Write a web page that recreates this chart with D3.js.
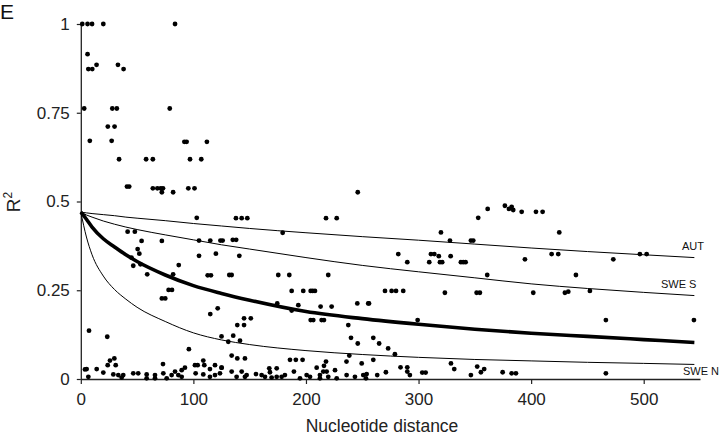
<!DOCTYPE html>
<html>
<head>
<meta charset="utf-8">
<script src="https://cdn.jsdelivr.net/npm/d3@7"></script>
<style>
  body { margin: 0; background: #fff; }
  svg { display: block; font-family: "Liberation Sans", Arial, sans-serif; }
</style>
</head>
<body>
<svg id="chart" width="720" height="437"></svg>
<script>
// --- données ---
const xTicks = [0, 100, 200, 300, 400, 500];
const yTicks = [0, 0.25, 0.5, 0.75, 1];

// distances où les courbes ajustées ont été relevées
const curveDist = [0, 5, 10, 20, 30, 40, 50, 75, 100, 125, 150, 200, 250, 300, 350, 400, 450, 500, 545];
const autR2   = [0.47, 0.468, 0.466, 0.463, 0.46, 0.456, 0.453, 0.446, 0.438, 0.431, 0.424, 0.412, 0.401, 0.391, 0.38, 0.369, 0.359, 0.35, 0.342];
const sweSR2  = [0.47, 0.462, 0.456, 0.445, 0.436, 0.428, 0.421, 0.406, 0.392, 0.378, 0.366, 0.342, 0.32, 0.302, 0.285, 0.268, 0.255, 0.244, 0.235];
const meanR2  = [0.47, 0.45, 0.428, 0.395, 0.372, 0.35, 0.331, 0.293, 0.263, 0.241, 0.222, 0.19, 0.17, 0.154, 0.14, 0.129, 0.12, 0.111, 0.103];
const sweNR2  = [0.47, 0.40, 0.35, 0.29, 0.252, 0.225, 0.202, 0.162, 0.13, 0.11, 0.097, 0.08, 0.069, 0.061, 0.055, 0.051, 0.047, 0.044, 0.041];

const curveLabels = ["AUT", "SWE S", "SWE N"];

// paires [distance, R2]
const pairs = [
  [1.3,1],[6,1],[10,1],[20,1],[83.7,1],
  [6,0.915],[6.7,0.873],[10.2,0.873],[14,0.885],[33,0.885],[38,0.873],
  [3,0.762],[28,0.762],[32,0.762],[79,0.762],
  [24,0.711],[30,0.711],
  [8,0.671],[27.4,0.671],[92,0.668],[94,0.668],[112,0.668],
  [34,0.619],[58,0.619],[64,0.619],[97,0.619],[107,0.619],
  [41,0.542],[43,0.542],[64,0.537],[68,0.537],[71,0.537],[73,0.537],[72,0.526],[82,0.526],[95.5,0.537],[101,0.537],
  [246,0.526],
  [103,0.454],[41.6,0.415],[48,0.415],[54,0.389],[72,0.389],[105,0.39],[115,0.39],[124,0.39],[126,0.39],
  [50.5,0.366],[52,0.353],[105,0.347],[120,0.353],[45,0.342],[46.6,0.319],[53,0.323],[87,0.321],
  [59,0.295],[82,0.295],[112.7,0.292],[115.6,0.292],[78,0.251],[81,0.251],[72,0.227],[75,0.227],
  [121.6,0.199],[115,0.183],[7.3,0.136],[23.5,0.119],[125,0.12],[96,0.084],[73,0.042],
  [25.9,0.052],[29.8,0.058],[23.9,0.039],[31,0.039],[5.2,0.028],[14.1,0.028],[20,0.018],[6.7,0.006],
  [28.9,0.013],[33.3,0.011],[37.7,0.011],[36.3,0.004],[46.6,0.016],[51,0.016],[58.5,0.013],[58.5,0.002],
  [65.9,0.011],[65.9,0.002],[73.3,0.016],[80.7,0.011],[76.3,0.002],[83.7,0.021],[86.6,0.011],[89.6,0.025],
  [89.6,0.006],[92.5,0.032],[101.4,0.039],[103.8,0.039],[108.8,0.052],[109.7,0.039],[114.7,0.028],[119.2,0.039],
  [102,0.016],[108.8,0.013],[114.7,0.006],[119.2,0.011],[125,0.032],[123.6,0.016],[3.7,0.027],
  [137.8,0.453],[142.9,0.453],[147.9,0.453],[217.8,0.453],[227.3,0.453],[179.3,0.412],[135,0.392],[138,0.392],
  [140.8,0.347],[131.9,0.293],[134,0.293],[175.4,0.293],[185.2,0.293],[219.8,0.293],[187.3,0.248],[197.6,0.248],
  [204.2,0.248],[206,0.248],[208,0.248],[193.2,0.208],[213,0.204],[222.8,0.204],[245.6,0.213],[255.3,0.213],
  [174.5,0.213],[187.3,0.193],[204.2,0.166],[206.5,0.166],[213.9,0.166],[216,0.166],[145,0.171],[151,0.171],
  [139,0.152],[145,0.152],[237.6,0.152],[135.4,0.122],[131,0.105],[141.4,0.108],[240,0.116],[246,0.1],
  [134,0.066],[139,0.058],[145.8,0.058],[185.8,0.054],[191,0.054],[197,0.054],[217.8,0.049],[236,0.049],
  [249.5,0.044],[238.5,0.066],
  [125.1,0.032],[134,0.021],[138.4,0.006],[142.9,0.021],[145.8,0.006],[147.3,0.011],[155.6,0.014],[160.6,0.011],
  [163.6,0.006],[167.4,0.03],[168,0.019],[169.5,0.004],[174,0.03],[174,0.006],[178.4,0.006],[181.3,0.011],
  [189.3,0.021],[194.7,0.002],[200.6,0.011],[203.6,0.006],[209.5,0.032],[212.4,0.011],[212.4,0.002],[215.4,0.021],
  [216,0.037],[218.4,0.021],[219.8,0.006],[225.8,0.025],[227.3,0.002],[236.1,0.011],[243.5,0.006],[250.9,0.011],
  [253.3,0.002],[253.9,0.014],
  [353,0.454],[361.4,0.479],[376.7,0.488],[380.3,0.479],[382.7,0.485],[384.1,0.476],[319.9,0.413],[327.9,0.39],
  [346.5,0.39],[348.6,0.39],[282,0.352],[311,0.352],[314,0.352],[318,0.346],[328.5,0.346],[290,0.329],
  [309.5,0.329],[319,0.329],[321,0.329],[337.6,0.329],[339.7,0.329],[341.8,0.329],[361,0.293],[270.2,0.248],
  [276.1,0.248],[280,0.248],[286.4,0.248],[323.4,0.243],[351.6,0.243],[354.5,0.243],[256,0.213],[299.2,0.166],
  [259.8,0.116],[265,0.1],[273,0.086],[279,0.07],[259.8,0.054],[284,0.033],[290,0.033],[290,0.021],
  [292.3,0.011],[271,0.019],[263.3,0.011],[303.3,0.018],[306.3,0.018],[328.8,0.044],[331.7,0.028],[346.5,0.011],
  [352.1,0.035],[355.4,0.019],[358.3,0.028],[374.7,0.019],[382.7,0.016],
  [391.6,0.471],[404.3,0.471],[410.2,0.471],[425,0.413],[394.5,0.337],[418.2,0.352],[424.1,0.352],[473,0.337],
  [496.6,0.352],[502.6,0.352],[439.8,0.293],[401.9,0.243],[430,0.243],[433,0.246],[452.2,0.248],[466.4,0.166],
  [544.6,0.166],[386.5,0.016],[466.4,0.016]
];

// --- dimensions ---
const svg = d3.select("#chart");
const x0 = 80.8, x1 = 700, yTop = 24, yBottom = 379;

const x = d3.scaleLinear().domain([0, 550]).range([x0, x1]);
const y = d3.scaleLinear().domain([0, 1]).range([yBottom, yTop]);

// Axes
const xAxis = svg.append("g")
  .attr("transform", `translate(0,${yBottom})`)
  .call(d3.axisBottom(x).tickValues(xTicks).tickSize(5).tickPadding(9).tickSizeOuter(0));

const yAxis = svg.append("g")
  .attr("transform", `translate(${x0},0)`)
  .call(d3.axisLeft(y).tickValues(yTicks).tickFormat(d => String(d)).tickSize(4).tickPadding(7).tickSizeOuter(0));

[xAxis, yAxis].forEach(g => {
  g.select(".domain").attr("stroke", "#222").attr("stroke-width", 1.3);
  g.selectAll(".tick line").attr("stroke", "#222").attr("stroke-width", 1.2);
  g.selectAll(".tick text")
    .attr("font-family", "Liberation Sans, Arial, sans-serif")
    .attr("font-size", 17)
    .attr("fill", "#222");
});

// Points
svg.append("g")
  .selectAll("circle")
  .data(pairs)
  .join("circle")
  .attr("cx", d => x(d[0]))
  .attr("cy", d => y(d[1]))
  .attr("r", 2.4)
  .attr("fill", "#000");

// Courbes
const line = d3.line()
  .x((d, i) => x(curveDist[i]))
  .y(d => y(d))
  .curve(d3.curveMonotoneX);

const curves = [
  {vals: autR2, w: 1},
  {vals: sweSR2, w: 1},
  {vals: sweNR2, w: 1},
  {vals: meanR2, w: 3.6}
];

svg.append("g")
  .selectAll("path")
  .data(curves)
  .join("path")
  .attr("d", d => line(d.vals))
  .attr("fill", "none")
  .attr("stroke", "#000")
  .attr("stroke-width", d => d.w);

// Étiquettes des courbes
const labelPos = [[682, 250], [661, 288], [683, 375]];
svg.append("g")
  .selectAll("text")
  .data(curveLabels)
  .join("text")
  .attr("x", (d, i) => labelPos[i][0])
  .attr("y", (d, i) => labelPos[i][1])
  .attr("font-size", 11)
  .attr("fill", "#111")
  .text(d => d);

// Titres
svg.append("text")
  .attr("x", 382)
  .attr("y", 432)
  .attr("text-anchor", "middle")
  .attr("font-size", 17.5)
  .attr("fill", "#222")
  .text("Nucleotide distance");

const yLab = svg.append("text")
  .attr("transform", "translate(20,202) rotate(-90)")
  .attr("text-anchor", "middle")
  .attr("font-size", 19)
  .attr("fill", "#222");
yLab.append("tspan").text("R");
yLab.append("tspan").attr("font-size", 12).attr("dy", -8).text("2");

svg.append("text")
  .attr("x", 0)
  .attr("y", 19)
  .attr("font-size", 21)
  .attr("fill", "#111")
  .text("E");
</script>
</body>
</html>
